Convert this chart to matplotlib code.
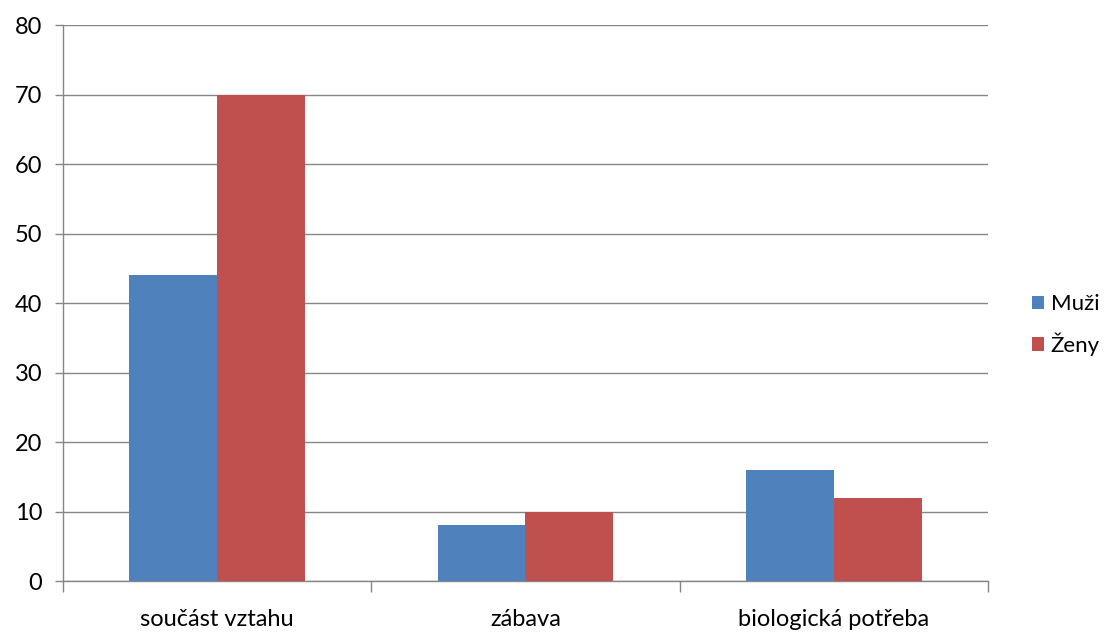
import matplotlib.pyplot as plt
import numpy as np

plt.rcParams['font.family'] = ['Lato', 'DejaVu Sans']

categories = ["součást vztahu", "zábava", "biologická potřeba"]
muzi = [44, 8, 16]
zeny = [70, 10, 12]
series_names = ["Muži", "Ženy"]

fig = plt.figure(figsize=(11.07, 6.35), dpi=100)
ax = fig.add_axes([0.0569, 0.085, 0.8356, 0.8756])

x = np.arange(len(categories))
w = 0.285
ax.bar(x - w/2, muzi, w, color="#4F81BD", label=series_names[0], zorder=3)
ax.bar(x + w/2, zeny, w, color="#C0504D", label=series_names[1], zorder=3)

ax.set_xlim(-0.5, len(categories) - 0.5)
ax.set_ylim(0, 80)
ax.set_yticks(range(0, 81, 10))
ax.yaxis.grid(True, color="#868686", linewidth=1, zorder=0)

# category boundaries as tick marks, labels centred under the bars
ax.set_xticks(np.arange(-0.5, len(categories)), labels=[])
ax.set_xticks(x, labels=categories, minor=True)
ax.tick_params(axis="x", which="major", length=8, width=1, color="#868686", direction="out")
ax.tick_params(axis="x", which="minor", length=0, pad=20, labelsize=17)
ax.tick_params(axis="y", length=6, width=1, color="#868686", pad=9, labelsize=17)

for s in ["top", "right"]:
    ax.spines[s].set_visible(False)
for s in ["left", "bottom"]:
    ax.spines[s].set_color("#868686")
    ax.spines[s].set_linewidth(1)

fig.legend(loc="center left", bbox_to_anchor=(0.932, 0.488), frameon=False,
           fontsize=16, handlelength=0.55, handleheight=0.55, handletextpad=0.3,
           labelspacing=0.8, borderaxespad=0, borderpad=0)

fig.savefig("out.png", dpi=100)
